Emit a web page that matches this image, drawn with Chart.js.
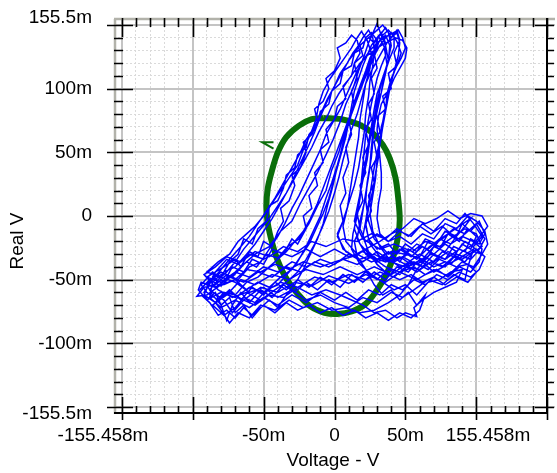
<!DOCTYPE html>
<html>
<head>
<meta charset="utf-8">
<script src="https://cdn.jsdelivr.net/npm/chart.js@4.4.1/dist/chart.umd.min.js"></script>
<style>
html, body { margin: 0; padding: 0; background: #fff; }
#wrap { width: 557px; height: 473px; }
</style>
</head>
<body>
<div id="wrap"><canvas id="chart" width="557" height="473"></canvas></div>
<script>
/* axis ranges and tick labels */
const xRange = [-155.458, 155.458];
const yRange = [-155.5, 155.5];
const xTickVals = [-155.458, -50, 0, 50, 155.458];
const xTickText = ['-155.458m', '-50m', '0', '50m', '155.458m'];
const yTickVals = [155.5, 100, 50, 0, -50, -100, -155.5];
const yTickText = ['155.5m', '100m', '50m', '0', '-50m', '-100m', '-155.5m'];

const loop1 = [[-95,-58],[-88,-50],[-80,-55],[-70,-44],[-62,-36],[-55,-40],[-48,-30],[-40,-33],[-33,-24],[-25,-18],[-18,-6],[-12,8],[-6,20],[-2,36],[3,50],[6,62],[11,78],[15,92],[19,104],[24,118],[28,130],[31,141],[35,133],[37,119],[33,104],[30,90],[28,76],[25,60],[23,44],[20,28],[17,12],[14,-4],[20,-18],[32,-26],[42,-22],[55,-28],[64,-20],[74,-24],[84,-16],[95,-22],[104,-30],[98,-40],[90,-36],[80,-47],[70,-42],[58,-50],[46,-44],[36,-52],[22,-46],[10,-53],[-4,-47],[-16,-55],[-28,-52],[-40,-60],[-52,-56],[-64,-66],[-74,-60],[-84,-68],[-92,-62]];
const loop2 = [[-88,-52],[-80,-44],[-72,-48],[-64,-38],[-56,-30],[-46,-24],[-38,-12],[-30,-4],[-24,10],[-18,22],[-12,34],[-6,48],[-1,60],[4,74],[8,88],[13,100],[17,114],[21,126],[24,136],[28,146],[30,151],[33,142],[36,134],[38,122],[35,110],[33,97],[30,86],[28,70],[26,54],[25,40],[23,26],[22,12],[24,-4],[28,-18],[38,-30],[48,-26],[58,-34],[67,-24],[76,-18],[84,-10],[92,-14],[100,-6],[106,-18],[101,-28],[96,-34],[86,-30],[78,-40],[68,-36],[58,-44],[50,-38],[40,-46],[28,-40],[16,-46],[4,-40],[-8,-46],[-20,-42],[-32,-50],[-44,-46],[-56,-54],[-66,-50],[-76,-62],[-86,-70],[-78,-78]];
const loop3 = [[-70,-72],[-64,-64],[-56,-68],[-48,-58],[-40,-54],[-32,-44],[-26,-36],[-20,-24],[-15,-12],[-10,0],[-6,14],[-2,26],[2,40],[5,52],[8,66],[12,80],[16,92],[20,104],[24,116],[28,126],[32,134],[36,140],[40,144],[44,137],[47,128],[44,118],[40,108],[37,96],[36,82],[34,70],[32,56],[30,44],[29,30],[27,16],[25,2],[27,-12],[32,-24],[40,-36],[50,-40],[62,-36],[70,-44],[80,-38],[90,-32],[98,-26],[94,-40],[92,-50],[84,-46],[76,-54],[66,-50],[56,-58],[48,-64],[40,-60],[30,-68],[20,-64],[10,-72],[0,-68],[-10,-62],[-20,-66],[-30,-58],[-40,-64],[-50,-56],[-60,-60],[-70,-52],[-80,-48]];
const loop4 = [[-90,-44],[-82,-36],[-74,-30],[-68,-20],[-62,-14],[-56,-8],[-50,0],[-44,10],[-38,20],[-32,30],[-26,40],[-22,52],[-17,64],[-13,76],[-11,88],[-8,98],[-3,108],[2,116],[7,124],[12,132],[16,140],[19,145],[23,138],[26,128],[25,116],[22,104],[20,90],[18,76],[17,62],[15,48],[13,34],[11,20],[9,6],[6,-8],[8,-20],[16,-30],[26,-36],[36,-32],[46,-40],[56,-36],[66,-42],[74,-34],[82,-38],[90,-28],[98,-22],[104,-14],[108,-8],[104,0],[96,2],[88,-2],[80,4],[72,-2],[64,-6],[56,-2],[48,-10],[40,-14],[32,-20],[22,-26],[12,-32],[0,-36],[-10,-40],[-22,-36],[-32,-42],[-42,-38],[-52,-44],[-62,-42],[-70,-50],[-80,-54],[-90,-62]];
const loop5 = [[-97,-63],[-92,-56],[-84,-54],[-76,-46],[-68,-50],[-60,-40],[-52,-36],[-46,-26],[-40,-16],[-35,-6],[-30,6],[-25,16],[-20,28],[-15,40],[-10,52],[-6,64],[-1,74],[4,84],[8,94],[12,104],[16,114],[20,122],[25,130],[30,136],[35,140],[40,143],[45,146],[48,140],[50,132],[47,124],[43,116],[40,106],[38,94],[36,82],[33,70],[32,58],[31,46],[29,34],[27,20],[24,6],[22,-8],[25,-22],[32,-32],[42,-36],[52,-30],[62,-34],[70,-24],[78,-28],[86,-16],[92,-8],[96,-2],[88,-8],[80,-14],[72,-20],[66,-32],[58,-42],[52,-54],[46,-62],[38,-68],[28,-74],[18,-76],[8,-72],[-2,-74],[-12,-68],[-22,-72],[-32,-66],[-42,-74],[-52,-70],[-60,-80],[-68,-76],[-74,-84],[-80,-74]];
const loop6 = [[-84,-68],[-78,-60],[-70,-62],[-62,-52],[-54,-48],[-46,-40],[-40,-34],[-34,-28],[-28,-20],[-22,-12],[-17,-2],[-12,10],[-8,22],[-4,34],[0,46],[4,58],[8,70],[12,82],[15,92],[19,102],[23,112],[26,120],[29,128],[31,136],[34,142],[38,146],[42,141],[42,132],[39,124],[36,114],[33,104],[30,96],[28,84],[26,70],[24,58],[22,44],[20,32],[18,18],[16,4],[14,-10],[18,-22],[26,-32],[36,-40],[46,-44],[56,-40],[64,-46],[72,-42],[80,-48],[88,-40],[96,-44],[102,-36],[104,-26],[98,-20],[90,-16],[82,-22],[74,-18],[66,-26],[58,-22],[50,-30],[40,-28],[30,-34],[20,-28],[10,-32],[0,-26],[-10,-32],[-20,-26],[-30,-32],[-40,-28],[-50,-34],[-60,-30],[-68,-38],[-76,-34],[-84,-44]];
const loop7 = [[-86,-48],[-78,-54],[-70,-50],[-62,-58],[-54,-52],[-46,-56],[-38,-48],[-30,-42],[-24,-32],[-18,-22],[-13,-10],[-8,2],[-4,14],[-1,26],[2,38],[5,50],[8,62],[10,74],[12,86],[14,98],[17,108],[20,118],[23,126],[26,134],[30,140],[33,144],[36,136],[36,126],[33,118],[30,108],[28,98],[26,88],[24,76],[22,64],[21,52],[20,40],[19,28],[18,14],[16,0],[13,-14],[12,-26],[18,-38],[26,-46],[34,-52],[42,-58],[50,-54],[58,-62],[66,-52],[74,-50],[82,-44],[90,-42],[86,-52],[78,-56],[70,-60],[62,-66],[56,-72],[58,-79],[50,-76],[44,-80],[36,-74],[28,-76],[20,-70],[12,-66],[4,-62],[-6,-58],[-16,-62],[-26,-56],[-36,-64],[-46,-62],[-56,-70],[-64,-66],[-72,-76],[-78,-66]];
const loop8 = [[-88,-58],[-82,-50],[-76,-44],[-70,-36],[-64,-26],[-58,-18],[-52,-10],[-46,-2],[-40,8],[-34,18],[-28,30],[-22,42],[-16,54],[-11,66],[-6,76],[-2,86],[3,96],[8,104],[13,112],[18,120],[23,126],[28,130],[33,134],[38,137],[43,140],[48,138],[51,132],[50,124],[46,116],[42,108],[39,100],[36,94],[33,88],[31,78],[30,68],[31,58],[32,46],[33,34],[33,22],[31,10],[30,-2],[32,-14],[38,-20],[46,-16],[54,-22],[62,-14],[70,-18],[78,-6],[86,-10],[94,0],[100,-4],[106,-12],[108,-22],[104,-30],[98,-28],[92,-36],[84,-32],[76,-40],[68,-36],[60,-42],[50,-40],[42,-48],[32,-44],[22,-50],[10,-46],[-2,-52],[-14,-48],[-26,-56],[-38,-52],[-50,-60],[-60,-56],[-70,-64],[-80,-60],[-90,-66]];
const loop9 = [[-92,-60],[-86,-50],[-80,-42],[-74,-34],[-66,-24],[-60,-16],[-54,-6],[-48,4],[-42,14],[-36,26],[-30,38],[-24,50],[-20,60],[-14,70],[-9,82],[-5,92],[0,102],[4,112],[9,120],[13,128],[17,134],[20,140],[24,146],[27,140],[28,130],[27,118],[25,106],[24,94],[22,80],[21,66],[19,52],[17,38],[14,24],[10,10],[6,-4],[2,-16],[8,-28],[18,-34],[28,-30],[38,-36],[48,-32],[58,-38],[68,-30],[78,-34],[88,-26],[96,-30],[104,-24],[100,-14],[92,-10],[84,-16],[76,-8],[68,-14],[60,-8],[52,-16],[44,-10],[36,-18],[26,-14],[16,-20],[6,-18],[-6,-24],[-16,-20],[-26,-28],[-36,-24],[-46,-32],[-56,-28],[-66,-36],[-76,-32],[-84,-40],[-92,-46]];
const loop10 = [[-82,-58],[-72,-64],[-62,-60],[-52,-66],[-42,-58],[-34,-52],[-26,-44],[-20,-34],[-14,-22],[-9,-10],[-4,4],[0,18],[3,30],[6,44],[9,56],[12,68],[16,80],[19,92],[22,104],[26,114],[30,122],[34,130],[37,136],[40,140],[44,144],[46,136],[45,126],[42,114],[39,100],[36,86],[34,74],[33,62],[30,50],[28,38],[26,24],[24,10],[22,-4],[20,-16],[24,-28],[30,-38],[38,-46],[46,-50],[54,-46],[62,-52],[70,-48],[78,-54],[86,-48],[94,-52],[100,-44],[94,-38],[86,-40],[78,-36],[70,-40],[62,-34],[54,-38],[46,-32],[36,-36],[26,-32],[16,-38],[6,-34],[-4,-40],[-14,-36],[-24,-44],[-34,-40],[-44,-48],[-54,-44],[-64,-52],[-74,-48],[-84,-56],[-94,-52]];
const loop11 = [[-96,-58],[-90,-66],[-84,-60],[-80,-70],[-74,-64],[-70,-76],[-64,-70],[-58,-80],[-52,-72],[-46,-66],[-40,-72],[-34,-62],[-28,-54],[-22,-42],[-17,-30],[-12,-18],[-8,-6],[-5,8],[-2,20],[1,34],[4,48],[7,62],[11,76],[14,90],[18,102],[22,114],[25,124],[29,132],[32,138],[36,142],[39,134],[38,122],[35,112],[32,102],[31,90],[29,78],[27,66],[26,52],[25,38],[23,24],[21,10],[18,-4],[16,-18],[22,-30],[30,-36],[40,-32],[50,-38],[60,-30],[70,-36],[80,-28],[90,-34],[100,-26],[106,-32],[102,-42],[96,-48],[88,-44],[80,-50],[72,-46],[64,-54],[56,-50],[48,-58],[40,-54],[32,-62],[24,-58],[16,-66],[8,-60],[0,-66],[-10,-60],[-20,-68],[-30,-62],[-40,-70],[-50,-64],[-60,-72],[-70,-66],[-80,-72],[-88,-64]];
const loop12 = [[-86,-52],[-78,-44],[-70,-40],[-62,-30],[-56,-22],[-50,-12],[-44,-2],[-38,10],[-33,20],[-28,32],[-23,44],[-18,56],[-14,66],[-10,78],[-6,88],[-2,98],[2,106],[6,114],[10,122],[14,128],[18,134],[22,138],[26,142],[30,146],[34,150],[38,144],[40,134],[38,124],[36,112],[34,102],[32,92],[30,82],[28,70],[27,58],[26,46],[24,32],[22,18],[20,4],[18,-10],[22,-20],[30,-14],[38,-20],[46,-12],[54,-16],[62,-6],[70,-12],[78,-2],[86,-6],[92,2],[98,-6],[104,-16],[98,-24],[92,-20],[86,-28],[78,-22],[70,-30],[62,-24],[54,-32],[46,-26],[38,-34],[30,-28],[20,-36],[10,-30],[0,-38],[-10,-34],[-20,-40],[-30,-36],[-40,-44],[-50,-40],[-60,-48],[-70,-44],[-80,-52],[-90,-48]];
const loop13 = [[-78,-40],[-70,-34],[-66,-40],[-60,-28],[-54,-32],[-50,-20],[-44,-24],[-40,-12],[-36,-4],[-38,6],[-32,12],[-28,24],[-30,32],[-24,38],[-20,50],[-22,58],[-16,64],[-12,74],[-14,84],[-8,90],[-4,100],[-6,108],[0,114],[4,124],[2,132],[8,136],[12,142],[16,138],[18,128],[14,120],[16,108],[12,98],[14,86],[10,76],[12,64],[8,54],[10,42],[6,30],[8,18],[4,8],[6,-4],[2,-14],[6,-26],[14,-32],[22,-26],[30,-34],[38,-28],[46,-36],[52,-26],[60,-32],[66,-20],[74,-26],[80,-14],[88,-20],[94,-10],[100,-16],[96,-26],[90,-22],[84,-32],[76,-28],[68,-38],[60,-34],[52,-44],[44,-40],[36,-50],[28,-44],[20,-52],[12,-46],[4,-56],[-4,-50],[-12,-58],[-20,-52],[-28,-60],[-36,-54],[-44,-64],[-52,-58],[-60,-68],[-66,-60],[-72,-70],[-76,-82],[-80,-70],[-86,-62]];
const loop14 = [[-90,-54],[-84,-46],[-78,-52],[-72,-40],[-64,-44],[-58,-34],[-50,-38],[-44,-26],[-36,-30],[-30,-18],[-26,-22],[-20,-10],[-22,0],[-16,6],[-18,16],[-12,24],[-14,34],[-8,42],[-10,52],[-4,58],[-6,68],[0,76],[2,86],[8,92],[6,102],[12,110],[14,120],[20,126],[18,134],[24,140],[28,136],[32,142],[36,148],[40,140],[44,146],[46,138],[42,128],[44,118],[38,112],[40,100],[34,94],[36,84],[30,78],[32,66],[28,58],[30,46],[26,38],[28,26],[24,16],[26,4],[22,-6],[24,-18],[30,-26],[38,-22],[44,-30],[50,-22],[58,-28],[64,-18],[72,-22],[78,-12],[86,-16],[90,-6],[96,-12],[102,-4],[106,-14],[102,-22],[96,-18],[92,-28],[84,-24],[78,-34],[70,-30],[62,-40],[54,-36],[46,-46],[38,-42],[30,-50],[22,-44],[14,-52],[6,-46],[-2,-54],[-10,-48],[-18,-56],[-26,-50],[-34,-58],[-42,-52],[-50,-62],[-58,-56],[-66,-66],[-74,-58],[-82,-66],[-90,-60]];
const loop15 = [[-94,-54],[-86,-44],[-80,-48],[-74,-36],[-68,-30],[-64,-18],[-58,-22],[-54,-10],[-48,-4],[-46,8],[-40,12],[-36,22],[-34,32],[-28,38],[-26,48],[-20,54],[-18,64],[-12,72],[-10,82],[-4,88],[-2,98],[4,104],[6,114],[12,118],[14,128],[20,132],[22,140],[26,144],[30,138],[28,128],[30,116],[26,108],[28,96],[24,88],[26,76],[22,68],[24,56],[20,46],[22,34],[18,24],[20,12],[16,2],[18,-10],[14,-20],[16,-32],[22,-42],[28,-54],[34,-62],[40,-58],[46,-66],[52,-60],[58,-70],[64,-62],[60,-74],[54,-80],[46,-76],[38,-82],[30,-76],[22,-80],[14,-74],[6,-78],[-2,-72],[-10,-76],[-18,-70],[-26,-74],[-34,-68],[-42,-76],[-50,-70],[-58,-78],[-64,-72],[-70,-80],[-76,-74],[-82,-78],[-88,-68],[-94,-62]];

/* reference ellipse (mV) and its start-up stub */
const refStart = [[-43,58],[-51,58],[-43,53]];
const refLoop = [[-8,77],[5,76],[17,72],[27,65],[34,56],[39,45],[43,30],[45,13],[46,-3],[45,-15],[42,-30],[37,-45],[30,-58],[22,-69],[12,-75],[2,-77],[-7,-76],[-17,-71],[-26,-61],[-34,-49],[-40,-35],[-44,-21],[-47,-6],[-48,8],[-47,22],[-44,36],[-40,50],[-34,62],[-25,71],[-16,76],[-8,77]];

const FONT = '"Liberation Sans", Arial, sans-serif';
const toPts = arr => arr.map(p => ({x: p[0], y: p[1]}));
const trace = [].concat(loop1, loop2, loop3, loop4, loop5, loop6, loop7, loop8,
    loop9, loop10, loop11, loop12, loop13, loop14, loop15);

/* frame, inner ticks, x labels and axis titles */
const decor = {
    id: 'decor',
    afterDraw(chart) {
        const ctx = chart.ctx;
        const a = chart.chartArea;
        const xs = chart.scales.x, ys = chart.scales.y;
        const line = (x1, y1, x2, y2) => { ctx.moveTo(x1, y1); ctx.lineTo(x2, y2); };
        ctx.save();
        // gray frame left / top
        ctx.strokeStyle = '#b2b2aa';
        ctx.lineWidth = 2.5;
        ctx.beginPath();
        line(a.left + 1, a.bottom, a.left + 1, a.top + 1);
        line(a.left, a.top + 1, a.right, a.top + 1);
        ctx.stroke();
        // black axis lines bottom / right
        const xr = Math.round(xs.getPixelForValue(150));
        ctx.strokeStyle = '#000';
        ctx.lineWidth = 2;
        ctx.beginPath();
        line(a.left, a.bottom - 1, xr + 1, a.bottom - 1);
        line(xr, a.top, xr, a.bottom);
        ctx.stroke();
        // ticks every 10m
        ctx.lineWidth = 1.6;
        ctx.beginPath();
        for (let v = -150; v <= 150; v += 10) {
            const major = v % 50 === 0;
            const px = Math.round(xs.getPixelForValue(v)) + 0.5;
            const py = Math.round(ys.getPixelForValue(v)) + 0.5;
            line(px, a.bottom + (major ? 6 : -1), px, a.bottom - (major ? 17 : 8));
            line(px, a.top, px, a.top + (major ? 19 : 9));
            line(a.left - (major ? 7 : 0), py, a.left + (major ? 19 : 9), py);
            line(xr - (major ? 12 : 0), py, xr + 7, py);
        }
        ctx.stroke();
        // x tick labels
        ctx.fillStyle = '#000';
        ctx.font = '19px ' + FONT;
        ctx.textAlign = 'center';
        ctx.textBaseline = 'middle';
        const endShift = [-11, 0, 0, 0, -67];
        xTickVals.forEach((v, i) => {
            ctx.fillText(xTickText[i], xs.getPixelForValue(v) + endShift[i], 436);
        });
        // axis titles
        ctx.fillText('Voltage - V', 333, 461);
        ctx.translate(18, 241);
        ctx.rotate(-Math.PI / 2);
        ctx.fillText('Real V', 0, 0);
        ctx.restore();
    }
};

const ctx = document.getElementById('chart');
const chart = new Chart(ctx, {
    type: 'scatter',
    data: {
        datasets: [
            {
                data: toPts(trace),
                showLine: true,
                borderColor: '#0000ff',
                borderWidth: 1.5,
                pointRadius: 0,
                tension: 0
            },
            {
                data: toPts(refStart),
                showLine: true,
                borderColor: '#0a6e0a',
                borderWidth: 2,
                pointRadius: 0
            },
            {
                data: toPts(refLoop),
                showLine: true,
                borderColor: '#0a6e0a',
                borderWidth: 6,
                pointRadius: 0,
                tension: 0.35
            }
        ]
    },
    options: {
        responsive: false,
        animation: false,
        devicePixelRatio: 1,
        layout: { padding: { top: 18, right: 2, left: 0, bottom: 0 } },
        plugins: { legend: { display: false }, tooltip: { enabled: false } },
        scales: {
            x: {
                type: 'linear',
                min: xRange[0],
                max: xRange[1],
                afterFit(s) { s.height = 59; s.paddingLeft = 0; s.paddingRight = 0; },
                afterBuildTicks(s) {
                    const t = [];
                    for (let v = -150; v <= 150; v += 10) t.push({value: v});
                    s.ticks = t;
                },
                ticks: { display: false },
                border: {
                    display: false,
                    dash: c => (c.tick && c.tick.value % 50 === 0) ? [] : [2, 2]
                },
                grid: {
                    drawTicks: false,
                    color: c => (c.tick && c.tick.value % 50 === 0) ? '#c4c4c4' : '#dadada',
                    lineWidth: c => (c.tick && c.tick.value % 50 === 0) ? 2 : 1
                }
            },
            y: {
                type: 'linear',
                min: yRange[0],
                max: yRange[1],
                afterFit(s) { s.width = 114; s.paddingTop = 0; s.paddingBottom = 0; },
                afterBuildTicks(s) {
                    const t = [{value: yRange[0]}];
                    for (let v = -150; v <= 150; v += 10) t.push({value: v});
                    t.push({value: yRange[1]});
                    s.ticks = t;
                },
                ticks: {
                    padding: 22,
                    color: '#000',
                    font: { family: FONT, size: 19 },
                    autoSkip: false,
                    callback: v => {
                        const i = yTickVals.findIndex(k => Math.abs(k - v) < 0.01);
                        return i >= 0 ? yTickText[i] : '';
                    }
                },
                border: {
                    display: false,
                    dash: c => (c.tick && c.tick.value % 50 === 0) ? [] : [2, 2]
                },
                grid: {
                    drawTicks: false,
                    color: c => {
                        const v = c.tick ? c.tick.value : 0;
                        if (Math.abs(v) > 151) return 'rgba(0,0,0,0)';
                        return v % 50 === 0 ? '#c4c4c4' : '#dadada';
                    },
                    lineWidth: c => (c.tick && c.tick.value % 50 === 0) ? 2 : 1
                }
            }
        }
    },
    plugins: [decor]
});
</script>
</body>
</html>
